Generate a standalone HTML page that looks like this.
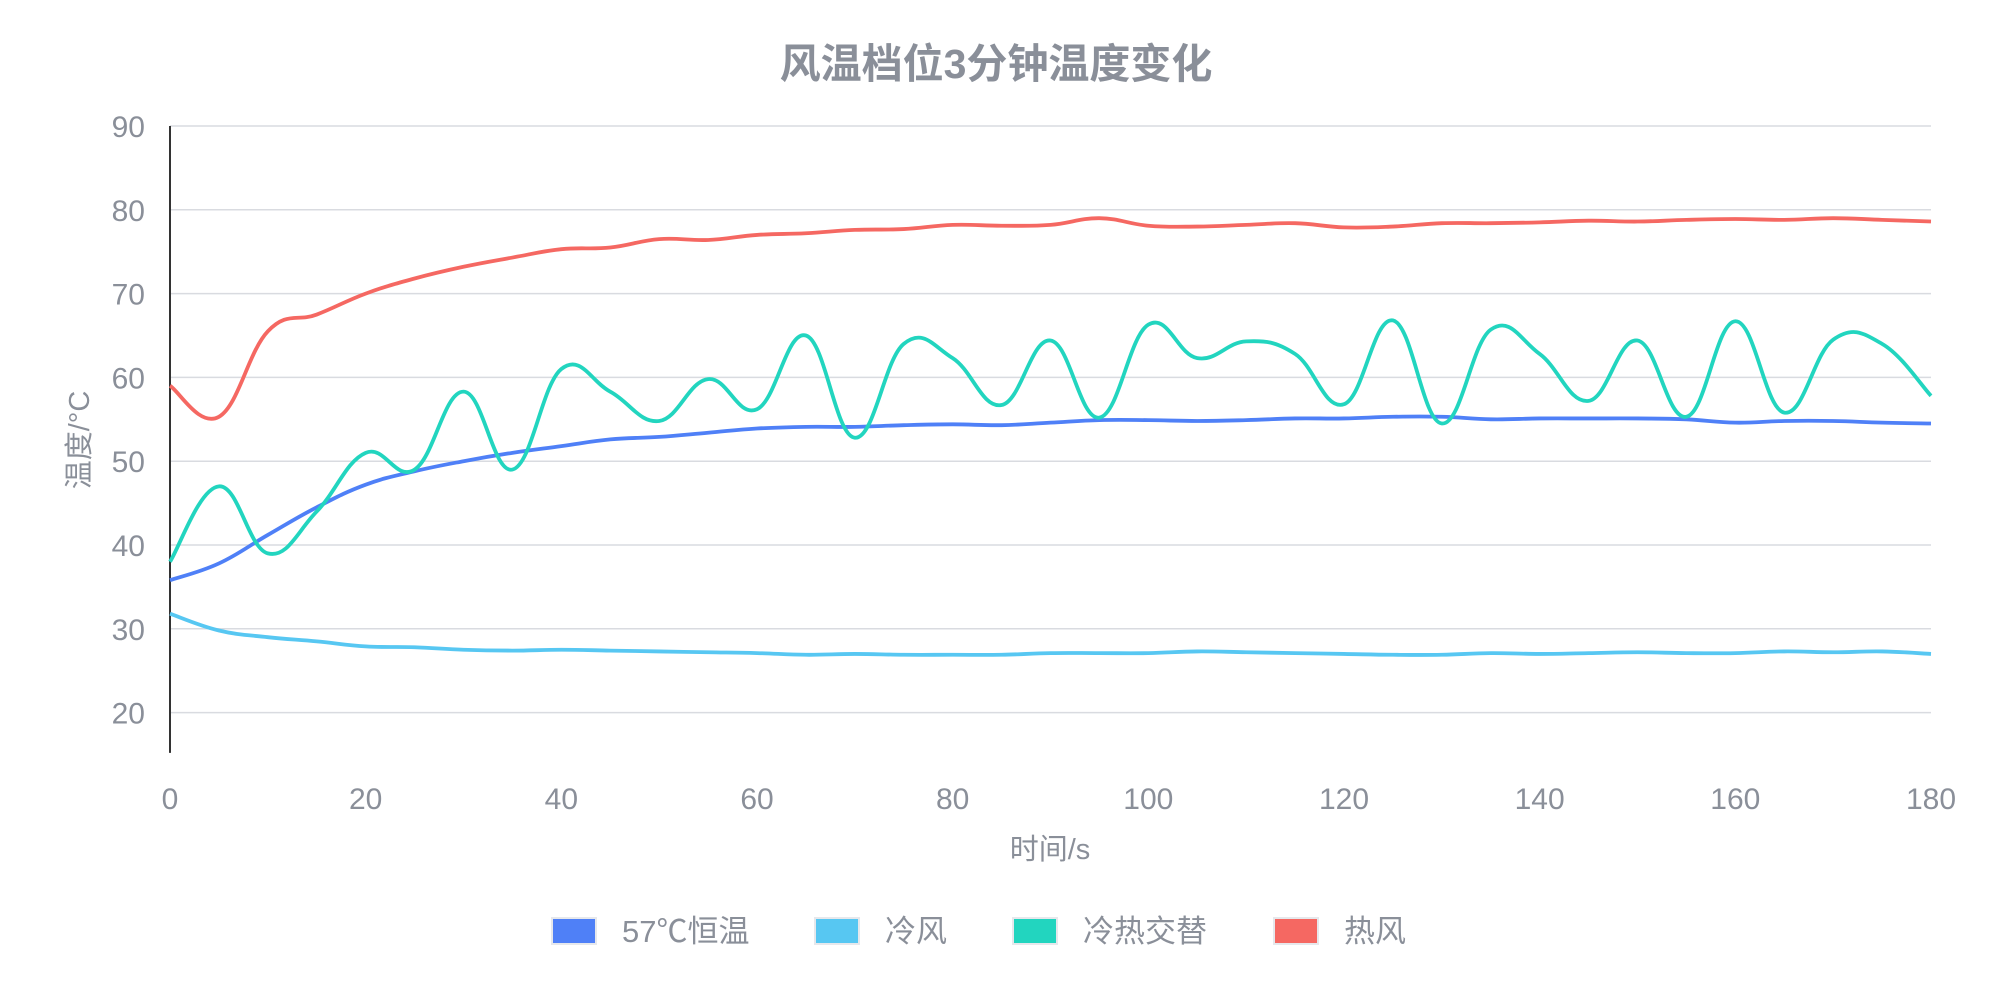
<!DOCTYPE html>
<html><head><meta charset="utf-8"><style>
body{margin:0;background:#fff;width:1991px;height:1001px;overflow:hidden;font-family:"Liberation Sans","Noto Sans CJK SC",sans-serif;}
</style></head><body>
<svg id="chart" width="1991" height="1001" xmlns="http://www.w3.org/2000/svg" font-family="Liberation Sans, Noto Sans CJK SC, sans-serif">
<text x="996" y="78" text-anchor="middle" font-size="41" font-weight="bold" fill="#8a8f99">风温档位3分钟温度变化</text>
<g id="grid"></g><g id="series"></g>
<text transform="translate(89,440) rotate(-90)" text-anchor="middle" font-size="29" fill="#8a8f99">温度/°C</text>
<text x="1050" y="859" text-anchor="middle" font-size="29" fill="#8a8f99">时间/s</text>
<g id="legend"></g>
</svg>
<script>
const times=[0,5,10,15,20,25,30,35,40,45,50,55,60,65,70,75,80,85,90,95,100,105,110,115,120,125,130,135,140,145,150,155,160,165,170,175,180];
const seriesNames=["57℃恒温","冷风","冷热交替","热风"];
const seriesColors=["#4f80f7","#57c7f2","#22d5bf","#f56862"];
const constTemp=[35.8,37.8,41.2,44.5,47.2,48.8,50,51,51.8,52.6,52.9,53.4,53.9,54.1,54.1,54.3,54.4,54.3,54.6,54.9,54.9,54.8,54.9,55.1,55.1,55.3,55.3,55,55.1,55.1,55.1,55,54.6,54.8,54.8,54.6,54.5];
const coldAir=[31.8,29.8,29,28.5,27.9,27.8,27.5,27.4,27.5,27.4,27.3,27.2,27.1,26.9,27,26.9,26.9,26.9,27.1,27.1,27.1,27.3,27.2,27.1,27,26.9,26.9,27.1,27,27.1,27.2,27.1,27.1,27.3,27.2,27.3,27];
const alternating=[38,47,39,44,51,49,58.3,49,61,58.3,54.8,59.8,56.2,65,52.8,64,62.3,56.7,64.4,55.2,66.3,62.3,64.3,62.8,56.8,66.8,54.5,65.7,62.8,57.2,64.4,55.3,66.7,55.8,64.5,64,57.8];
const hotAir=[59,55.3,65.5,67.5,70,71.8,73.2,74.3,75.3,75.5,76.5,76.4,77,77.2,77.6,77.7,78.2,78.1,78.2,79,78.1,78,78.2,78.4,77.9,78,78.4,78.4,78.5,78.7,78.6,78.8,78.9,78.8,79,78.8,78.6];
const yTicks=[20,30,40,50,60,70,80,90];
const xTicks=[0,20,40,60,80,100,120,140,160,180];
const NS="http://www.w3.org/2000/svg";
const X0=170,X1=1931,Y90=126,PER=83.8;
const xs=t=>X0+(X1-X0)*t/180;
const ys=v=>Y90+(90-v)*PER/10;
function mk(tag,attrs,parent){const e=document.createElementNS(NS,tag);for(const k in attrs)e.setAttribute(k,attrs[k]);parent.appendChild(e);return e;}
const grid=document.getElementById('grid');
yTicks.forEach(v=>{
 const l=mk('line',{x1:X0,x2:X1,y1:ys(v),y2:ys(v),stroke:'#d9dbe0','stroke-width':1.5},grid);
 
 
 const t=mk('text',{x:145,y:ys(v)+11,'text-anchor':'end','font-size':30,fill:'#8a8f99'},grid);
 t.textContent=v;
 
 
});
const ax=mk('line',{x1:X0,x2:X0,y1:Y90,y2:ys(15.2),stroke:'#333','stroke-width':2},grid);


xTicks.forEach(v=>{
 const t=mk('text',{x:xs(v),y:809,'text-anchor':'middle','font-size':30,fill:'#8a8f99'},grid);
 t.textContent=v;
 
 
});
function pathD(vals){
 const p=vals.map((v,i)=>[xs(times[i]),ys(v)]);
 let d='M'+p[0][0]+','+p[0][1];
 const k=0.2;
 for(let i=0;i<p.length-1;i++){
  const p0=p[i-1]||p[i],p1=p[i],p2=p[i+1],p3=p[i+2]||p2;
  const c1=[p1[0]+(p2[0]-p0[0])*k,p1[1]+(p2[1]-p0[1])*k];
  const c2=[p2[0]-(p3[0]-p1[0])*k,p2[1]-(p3[1]-p1[1])*k];
  d+=` C${c1[0]},${c1[1]} ${c2[0]},${c2[1]} ${p2[0]},${p2[1]}`;
 }
 return d;
}
const sg=document.getElementById('series');
const allSeries=[constTemp,coldAir,alternating,hotAir];
const seriesKeys=['constant-57c-line','cold-air-line','alternating-line','hot-air-line'];
allSeries.forEach((vals,i)=>{
 const p=mk('path',{d:pathD(vals),fill:'none',stroke:seriesColors[i],'stroke-width':3.8,'stroke-linejoin':'round'},sg);
 
 
});
const lg=document.getElementById('legend');
const lx=[552,815,1013,1274];
seriesNames.forEach((n,i)=>{
 const g=mk('g',{},lg);
 
 
 mk('rect',{x:lx[i],y:918,width:44,height:26,fill:seriesColors[i],stroke:'#e6e8ec','stroke-width':2},g);
 const t=mk('text',{x:lx[i]+70,y:942,'font-size':31,fill:'#8a8f99'},g);
 t.textContent=n;
});
</script>
</body></html>
